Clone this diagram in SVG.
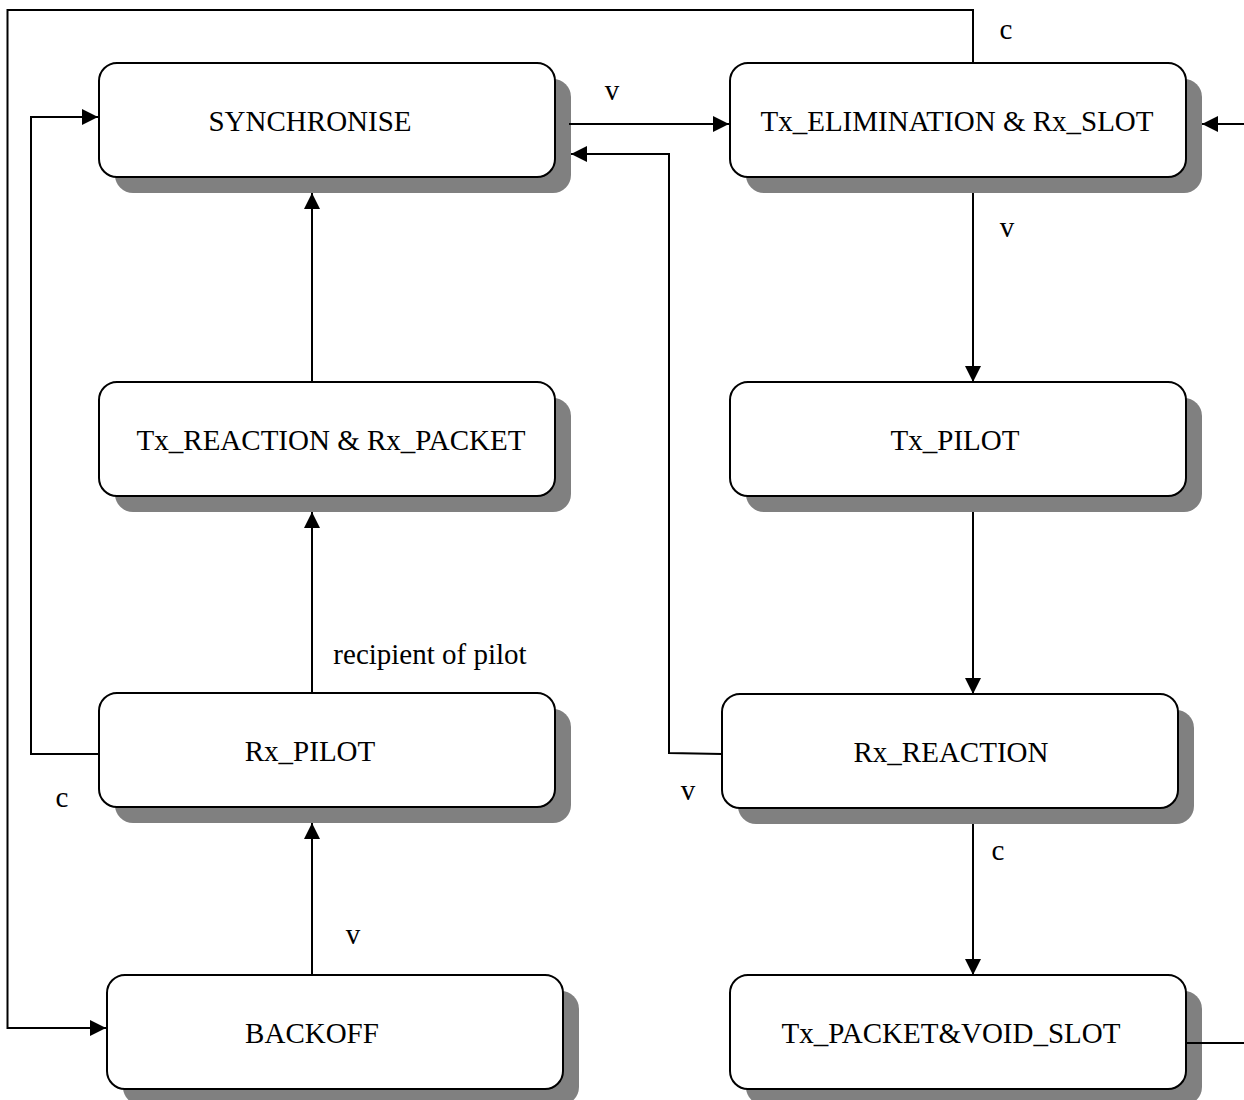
<svg xmlns="http://www.w3.org/2000/svg" width="1244" height="1100" viewBox="0 0 1244 1100">
<style>
.shadow{fill:#808080;stroke:none}
.box{fill:#ffffff;stroke:#000000;stroke-width:2}
.t{font-family:"Liberation Serif","Times New Roman",serif;font-size:29px;fill:#000000;text-anchor:middle}
.lbl{font-family:"Liberation Serif","Times New Roman",serif;font-size:29px;fill:#000000;text-anchor:middle}
.c{fill:none;stroke:#000000;stroke-width:2}
</style>
<defs>
<marker id="ah" viewBox="0 0 16 16" refX="16" refY="8" markerWidth="16" markerHeight="16" markerUnits="userSpaceOnUse" orient="auto">
<path d="M0,0 L16,8 L0,16 z" fill="#000000"/>
</marker>
</defs>
<rect width="1244" height="1100" fill="#ffffff"/>

<g id="synchronise">
<rect class="shadow" x="115" y="79" width="456" height="114" rx="18"/>
<rect class="box" x="99" y="63" width="456" height="114" rx="18"/>
<text class="t" x="310" y="131">SYNCHRONISE</text>
</g>
<g id="tx_elimination">
<rect class="shadow" x="746" y="79" width="456" height="114" rx="18"/>
<rect class="box" x="730" y="63" width="456" height="114" rx="18"/>
<text class="t" x="957" y="131">Tx_ELIMINATION &amp; Rx_SLOT</text>
</g>
<g id="tx_reaction">
<rect class="shadow" x="115" y="398" width="456" height="114" rx="18"/>
<rect class="box" x="99" y="382" width="456" height="114" rx="18"/>
<text class="t" x="331" y="450">Tx_REACTION &amp; Rx_PACKET</text>
</g>
<g id="tx_pilot">
<rect class="shadow" x="746" y="398" width="456" height="114" rx="18"/>
<rect class="box" x="730" y="382" width="456" height="114" rx="18"/>
<text class="t" x="955" y="450">Tx_PILOT</text>
</g>
<g id="rx_pilot">
<rect class="shadow" x="115" y="709" width="456" height="114" rx="18"/>
<rect class="box" x="99" y="693" width="456" height="114" rx="18"/>
<text class="t" x="310" y="761">Rx_PILOT</text>
</g>
<g id="rx_reaction">
<rect class="shadow" x="738" y="710" width="456" height="114" rx="18"/>
<rect class="box" x="722" y="694" width="456" height="114" rx="18"/>
<text class="t" x="951" y="762">Rx_REACTION</text>
</g>
<g id="backoff">
<rect class="shadow" x="123" y="991" width="456" height="114" rx="18"/>
<rect class="box" x="107" y="975" width="456" height="114" rx="18"/>
<text class="t" x="312" y="1043">BACKOFF</text>
</g>
<g id="tx_packet">
<rect class="shadow" x="746" y="991" width="456" height="114" rx="18"/>
<rect class="box" x="730" y="975" width="456" height="114" rx="18"/>
<text class="t" x="951" y="1043">Tx_PACKET&amp;VOID_SLOT</text>
</g>

<g id="connectors">
<path class="c" d="M569,124 L729,124" marker-end="url(#ah)"/>
<path class="c" d="M722,754 L669,753 L669,154 L571,154" marker-end="url(#ah)"/>
<path class="c" d="M99,754 L31,754 L31,117 L98,117" marker-end="url(#ah)"/>
<path class="c" d="M973,63 L973,10 L7.5,10 L7.5,1028 L106,1028" marker-end="url(#ah)"/>
<path class="c" d="M1186,1043 L1250,1043"/>
<path class="c" d="M1250,124 L1202,124" marker-end="url(#ah)"/>
<path class="c" d="M312,382 L312,193" marker-end="url(#ah)"/>
<path class="c" d="M312,693 L312,512" marker-end="url(#ah)"/>
<path class="c" d="M312,975 L312,823" marker-end="url(#ah)"/>
<path class="c" d="M973,193 L973,382" marker-end="url(#ah)"/>
<path class="c" d="M973,512 L973,694" marker-end="url(#ah)"/>
<path class="c" d="M973,824 L973,975" marker-end="url(#ah)"/>
<text class="lbl" x="612" y="100">v</text>
<text class="lbl" x="1006" y="39">c</text>
<text class="lbl" x="1007" y="237">v</text>
<text class="lbl" x="430" y="664">recipient of pilot</text>
<text class="lbl" x="62" y="807">c</text>
<text class="lbl" x="688" y="800">v</text>
<text class="lbl" x="998" y="860">c</text>
<text class="lbl" x="353" y="944">v</text>
</g>
</svg>
